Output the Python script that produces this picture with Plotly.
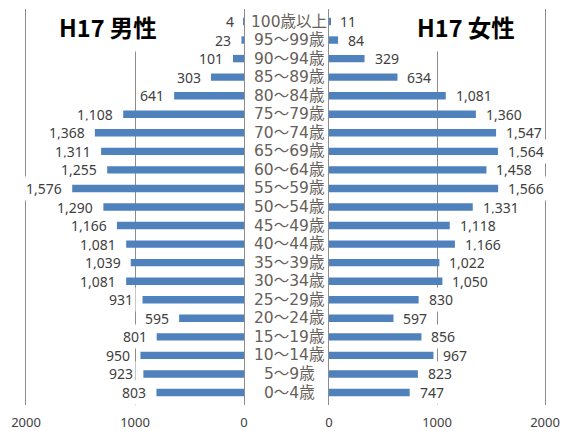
import plotly.graph_objects as go

# Age groups, top to bottom
ages = ["100歳以上", "95～99歳", "90～94歳", "85～89歳", "80～84歳", "75～79歳",
        "70～74歳", "65～69歳", "60～64歳", "55～59歳", "50～54歳", "45～49歳",
        "40～44歳", "35～39歳", "30～34歳", "25～29歳", "20～24歳", "15～19歳",
        "10～14歳", "5～9歳", "0～4歳"]
male = [4, 23, 101, 303, 641, 1108, 1368, 1311, 1255, 1576, 1290, 1166,
        1081, 1039, 1081, 931, 595, 801, 950, 923, 803]
female = [11, 84, 329, 634, 1081, 1360, 1547, 1564, 1458, 1566, 1331, 1118,
          1166, 1022, 1050, 830, 597, 856, 967, 823, 747]
tick_vals = [0, 1000, 2000]
tick_text = ["0", "1000", "2000"]
title_male = "H17 男性"
title_female = "H17 女性"

W, H = 568, 431
ML, MR, MT, MB = 0, 0, 9, 26
PH = H - MT - MB
BAR = "#4F81BD"
GRID = "#8C8C8C"
TXT = "#404040"


def py(pix):
    # pixel row -> paper y (paper spans the plot area)
    return (H - MB - pix) / PH


fig = go.Figure()
fig.add_trace(go.Bar(x=male, y=ages, orientation="h", marker_color=BAR,
                     xaxis="x", yaxis="y", showlegend=False, hoverinfo="x+y"))
fig.add_trace(go.Bar(x=female, y=ages, orientation="h", marker_color=BAR,
                     xaxis="x2", yaxis="y2", showlegend=False, hoverinfo="x+y"))

ann = []
lab_font = dict(family="Noto Sans, sans-serif", size=14, color=TXT)
for a, v in zip(ages, male):
    ann.append(dict(x=v, y=a, xref="x", yref="y", text=f"{v:,}", showarrow=False,
                    xanchor="right", yanchor="middle", xshift=-7, bgcolor="white",
                    borderpad=2, font=lab_font))
for a, v in zip(ages, female):
    ann.append(dict(x=v, y=a, xref="x2", yref="y2", text=f"{v:,}", showarrow=False,
                    xanchor="left", yanchor="middle", xshift=7, bgcolor="white",
                    borderpad=2, font=lab_font))
for a in ages:
    ann.append(dict(x=289 / W, y=a, xref="paper", yref="y", text=a, showarrow=False,
                    xanchor="center", yanchor="middle",
                    font=dict(family="DejaVu Sans, Noto Sans CJK JP", size=15.5,
                              color="#66605a")))
title_font = dict(family="Noto Sans CJK JP", size=23.5, color="black")
ann.append(dict(x=108 / W, y=py(27), xref="paper", yref="paper",
                xanchor="center", yanchor="middle",
                text=f"<b>{title_male}</b>", showarrow=False, bgcolor="white",
                borderpad=7, font=title_font))
ann.append(dict(x=466 / W, y=py(27), xref="paper", yref="paper",
                xanchor="center", yanchor="middle",
                text=f"<b>{title_female}</b>", showarrow=False, bgcolor="white",
                borderpad=7, font=title_font))

xcommon = dict(tickvals=tick_vals, ticktext=tick_text, showgrid=True, gridcolor=GRID,
               gridwidth=1, zeroline=False, showline=False, ticks="",
               ticklabelstandoff=8, automargin=False, fixedrange=True,
               tickfont=dict(family="Noto Sans, sans-serif", size=13, color=TXT))
ycommon = dict(autorange="reversed", showticklabels=False, showgrid=False,
               zeroline=False, showline=True, mirror=True, linecolor=GRID,
               linewidth=1, ticks="", automargin=False, fixedrange=True)

fig.update_layout(
    width=W, height=H, template="none",
    paper_bgcolor="white", plot_bgcolor="white",
    margin=dict(l=ML, r=MR, t=MT, b=MB),
    bargap=0.6,
    xaxis=dict(domain=[26 / W, 244 / W], range=[2000, 0], anchor="y", **xcommon),
    xaxis2=dict(domain=[329 / W, 545 / W], range=[0, 2000], anchor="y2", **xcommon),
    yaxis=dict(domain=[0, 1], anchor="x", **ycommon),
    yaxis2=dict(domain=[0, 1], anchor="x2", matches="y", **ycommon),
    annotations=ann,
)
fig.write_html("out.html", config={"displayModeBar": False},
               post_script="document.body.style.margin='0';")
